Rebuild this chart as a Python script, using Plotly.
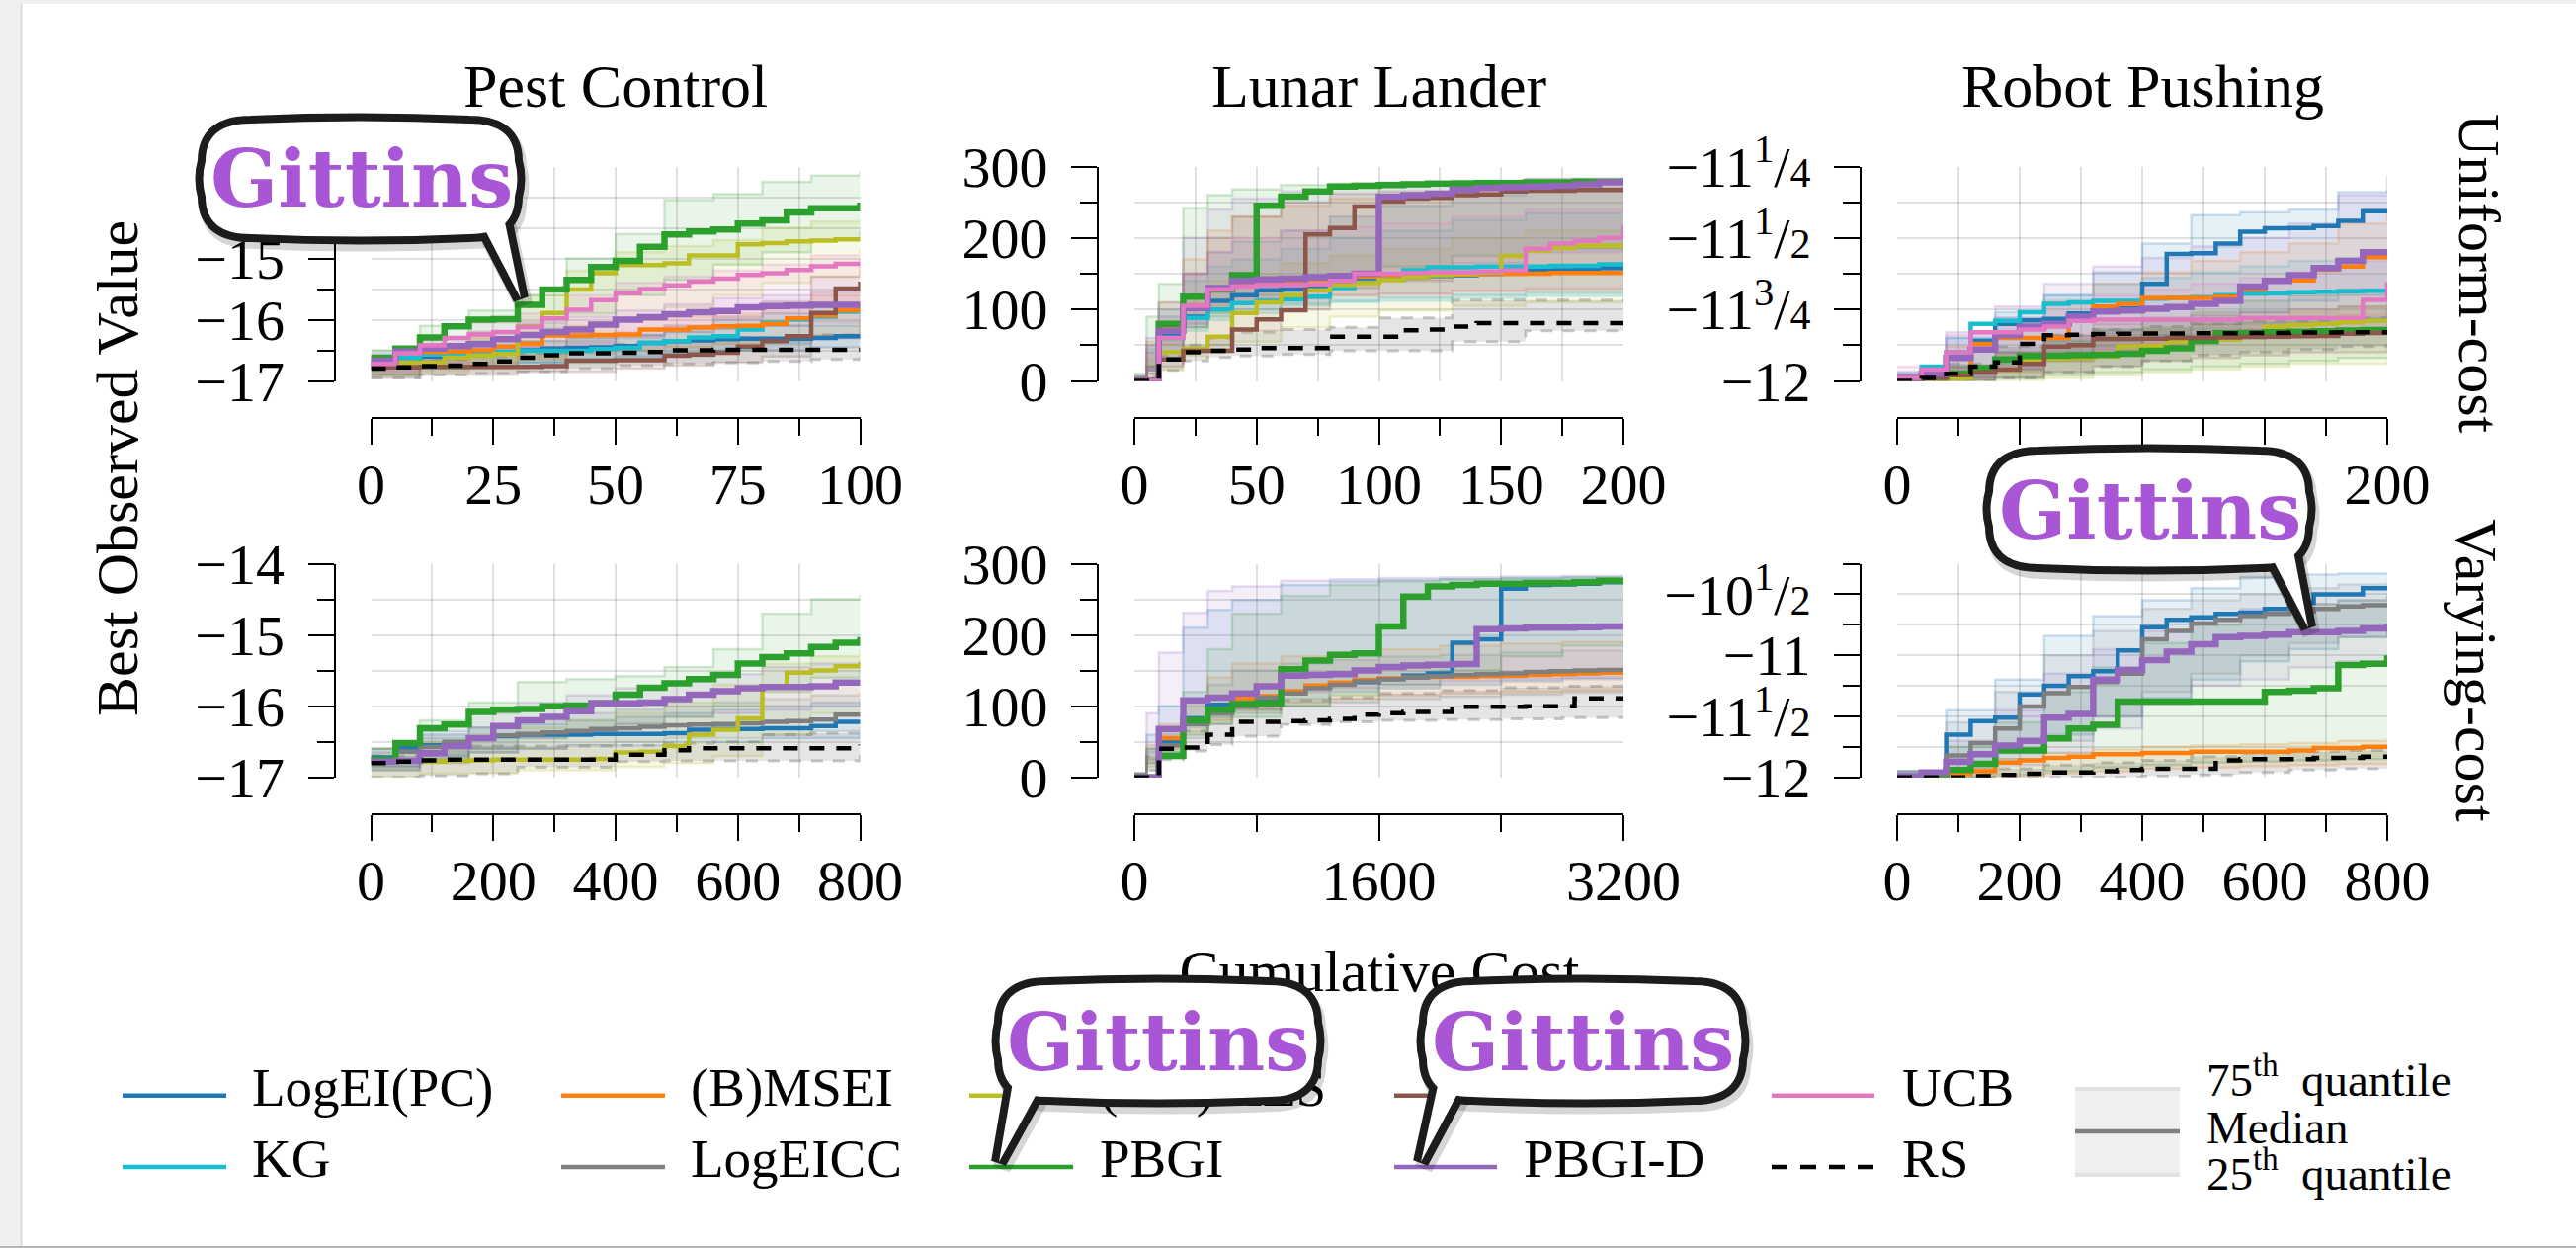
import plotly.graph_objects as go

W, H = 2607, 1263

# ---------------------------------------------------------------- data
# Medians are sampled on a regular cost grid per panel; quantile bands on a coarser grid.

# Pest Control, uniform cost
PEST_U_X = [0, 5, 10, 15, 20, 25, 30, 35, 40, 45, 50, 55, 60, 65, 70, 75, 80, 85, 90, 95, 100]
PEST_U_BX = [0, 10, 20, 30, 40, 50, 60, 70, 80, 90, 100]
pest_u_logei = [-16.72, -16.62, -16.60, -16.57, -16.55, -16.54, -16.50, -16.47, -16.46, -16.45, -16.43, -16.38, -16.35, -16.34, -16.32, -16.31, -16.31, -16.31, -16.30, -16.27, -16.25]
pest_u_kg = [-16.70, -16.62, -16.57, -16.56, -16.55, -16.52, -16.51, -16.51, -16.51, -16.48, -16.46, -16.38, -16.35, -16.29, -16.27, -16.16, -16.05, -16.00, -15.95, -15.87, -15.85]
pest_u_msei = [-16.78, -16.54, -16.53, -16.52, -16.50, -16.44, -16.39, -16.26, -16.26, -16.25, -16.24, -16.16, -16.16, -16.13, -16.11, -16.10, -16.07, -15.98, -15.93, -15.85, -15.73]
pest_u_mes = [-16.75, -16.70, -16.70, -16.62, -16.59, -16.56, -16.11, -15.89, -15.51, -15.24, -15.11, -15.11, -15.08, -14.95, -14.95, -14.77, -14.75, -14.72, -14.71, -14.69, -14.68]
pest_u_pbgi = [-16.62, -16.47, -16.29, -16.11, -16.00, -15.99, -15.76, -15.51, -15.35, -15.14, -15.04, -14.81, -14.61, -14.56, -14.53, -14.43, -14.38, -14.25, -14.18, -14.18, -14.09]
pest_u_ts = [-16.78, -16.78, -16.77, -16.77, -16.77, -16.77, -16.77, -16.76, -16.67, -16.67, -16.66, -16.66, -16.59, -16.57, -16.54, -16.44, -16.35, -16.27, -15.89, -15.49, -15.38]
pest_u_pbgid = [-16.67, -16.52, -16.47, -16.43, -16.40, -16.32, -16.25, -16.20, -16.16, -16.08, -16.00, -15.96, -15.91, -15.88, -15.86, -15.80, -15.78, -15.77, -15.76, -15.76, -15.76]
pest_u_ucb = [-16.72, -16.55, -16.42, -16.30, -16.24, -16.20, -16.12, -15.98, -15.84, -15.68, -15.57, -15.50, -15.44, -15.38, -15.33, -15.27, -15.24, -15.19, -15.13, -15.09, -15.07]
pest_u_rs = [-16.80, -16.78, -16.76, -16.75, -16.72, -16.68, -16.62, -16.58, -16.55, -16.55, -16.54, -16.53, -16.50, -16.50, -16.49, -16.49, -16.49, -16.49, -16.49, -16.49, -16.49]
pest_u_logei_lo = [-16.9, -16.8, -16.75, -16.7, -16.65, -16.6, -16.55, -16.5, -16.5, -16.45, -16.45]
pest_u_logei_hi = [-16.6, -16.5, -16.45, -16.35, -16.3, -16.25, -16.2, -16.15, -16.1, -16.1, -16.05]
pest_u_kg_lo = [-16.9, -16.8, -16.75, -16.7, -16.7, -16.65, -16.6, -16.5, -16.4, -16.3, -16.2]
pest_u_kg_hi = [-16.6, -16.45, -16.4, -16.35, -16.3, -16.25, -16.15, -16.0, -15.9, -15.8, -15.7]
pest_u_msei_lo = [-16.9, -16.75, -16.7, -16.65, -16.55, -16.5, -16.45, -16.4, -16.35, -16.25, -16.1]
pest_u_msei_hi = [-16.6, -16.4, -16.3, -16.2, -16.1, -16.0, -15.95, -15.9, -15.8, -15.6, -15.5]
pest_u_mes_lo = [-16.9, -16.85, -16.8, -16.6, -16.3, -16.0, -15.8, -15.6, -15.4, -15.3, -15.2]
pest_u_mes_hi = [-16.6, -16.4, -16.2, -15.6, -15.2, -14.9, -14.8, -14.7, -14.5, -14.4, -14.35]
pest_u_pbgi_lo = [-16.78, -16.55, -16.35, -16.15, -15.9, -15.6, -15.35, -15.1, -14.9, -14.7, -14.55]
pest_u_pbgi_hi = [-16.5, -16.1, -15.85, -15.6, -15.0, -14.6, -14.05, -13.95, -13.75, -13.65, -13.58]
pest_u_ts_lo = [-16.95, -16.9, -16.9, -16.85, -16.85, -16.8, -16.75, -16.7, -16.6, -16.3, -15.9]
pest_u_ts_hi = [-16.65, -16.6, -16.55, -16.45, -16.35, -16.25, -16.1, -15.95, -15.7, -15.3, -15.0]
pest_u_pbgid_lo = [-16.8, -16.65, -16.55, -16.45, -16.4, -16.3, -16.2, -16.15, -16.1, -16.05, -16.0]
pest_u_pbgid_hi = [-16.55, -16.3, -16.2, -16.05, -15.95, -15.85, -15.75, -15.65, -15.6, -15.55, -15.5]
pest_u_ucb_lo = [-16.85, -16.7, -16.55, -16.45, -16.3, -16.2, -16.1, -16.0, -15.9, -15.8, -15.7]
pest_u_ucb_hi = [-16.6, -16.3, -16.05, -15.9, -15.6, -15.4, -15.3, -15.2, -15.1, -14.95, -14.85]
pest_u_rs_lo = [-16.95, -16.9, -16.88, -16.85, -16.8, -16.75, -16.72, -16.7, -16.68, -16.65, -16.6]
pest_u_rs_hi = [-16.7, -16.65, -16.6, -16.55, -16.45, -16.4, -16.35, -16.3, -16.3, -16.25, -16.25]

# Lunar Lander, uniform cost
LUNAR_U_X = [0, 10, 20, 30, 40, 50, 60, 70, 80, 90, 100, 110, 120, 130, 140, 150, 160, 170, 180, 190, 200]
LUNAR_U_BX = [0, 5, 10, 20, 30, 40, 60, 80, 100, 130, 160, 200]
lunar_u_logei = [0, 65, 90, 112, 120, 127, 128, 129, 134, 140, 142, 145, 147, 148, 150, 151, 154, 155, 157, 158, 159]
lunar_u_kg = [0, 60, 88, 100, 109, 112, 114, 118, 130, 138, 142, 155, 159, 159, 160, 160, 160, 161, 161, 163, 167]
lunar_u_msei = [0, 74, 105, 130, 133, 136, 138, 142, 143, 146, 148, 148, 149, 149, 150, 150, 150, 151, 151, 151, 152]
lunar_u_mes = [0, 40, 45, 62, 95, 110, 120, 127, 134, 137, 141, 145, 148, 150, 152, 175, 182, 186, 189, 189, 189]
lunar_u_pbgi = [0, 80, 118, 128, 148, 245, 258, 265, 272, 273, 274, 275, 276, 276, 277, 277, 278, 278, 279, 279, 280]
lunar_u_ts = [0, 30, 42, 42, 72, 86, 99, 205, 214, 244, 251, 255, 256, 260, 261, 265, 266, 266, 267, 267, 267]
lunar_u_pbgid = [0, 70, 102, 130, 140, 142, 143, 145, 147, 150, 258, 260, 262, 268, 270, 271, 272, 273, 275, 278, 283]
lunar_u_ucb = [0, 60, 105, 128, 132, 134, 134, 135, 140, 150, 150, 151, 152, 152, 153, 155, 185, 192, 196, 200, 217]
lunar_u_rs = [0, 30, 40, 42, 44, 46, 46, 46, 62, 62, 62, 71, 72, 76, 81, 81, 81, 81, 81, 81, 81]
lunar_u_logei_lo = [0, 15, 40, 75, 90, 100, 108, 112, 116, 120, 123, 125]
lunar_u_logei_hi = [5, 50, 100, 150, 180, 195, 210, 230, 245, 260, 268, 272]
lunar_u_kg_lo = [0, 15, 35, 70, 85, 95, 105, 110, 112, 116, 119, 122]
lunar_u_kg_hi = [5, 45, 90, 140, 160, 170, 185, 200, 210, 225, 235, 245]
lunar_u_msei_lo = [0, 20, 50, 90, 105, 112, 116, 120, 122, 126, 128, 130]
lunar_u_msei_hi = [5, 55, 110, 170, 210, 230, 245, 255, 260, 266, 269, 272]
lunar_u_mes_lo = [0, 5, 15, 35, 45, 55, 75, 90, 98, 105, 110, 115]
lunar_u_mes_hi = [5, 30, 60, 110, 140, 150, 165, 175, 185, 200, 210, 220]
lunar_u_pbgi_lo = [0, 20, 40, 75, 95, 120, 140, 150, 160, 175, 185, 195]
lunar_u_pbgi_hi = [10, 90, 136, 242, 260, 268, 274, 276, 278, 280, 282, 284]
lunar_u_ts_lo = [0, 10, 20, 40, 50, 70, 100, 130, 140, 148, 155, 165]
lunar_u_ts_hi = [5, 40, 80, 150, 200, 230, 250, 262, 265, 268, 272, 275]
lunar_u_pbgid_lo = [0, 15, 40, 80, 100, 115, 130, 140, 150, 165, 180, 200]
lunar_u_pbgid_hi = [8, 60, 110, 200, 240, 255, 265, 272, 276, 280, 283, 286]
lunar_u_ucb_lo = [0, 15, 35, 80, 100, 110, 115, 120, 122, 126, 130, 135]
lunar_u_ucb_hi = [5, 50, 90, 150, 180, 200, 210, 215, 220, 230, 240, 250]
lunar_u_rs_lo = [0, 5, 15, 28, 33, 35, 37, 42, 42, 55, 70, 72]
lunar_u_rs_hi = [5, 20, 35, 50, 60, 68, 72, 75, 88, 113, 113, 113]

# Robot Pushing, uniform cost
ROBOT_U_X = [0, 10, 20, 30, 40, 50, 60, 70, 80, 90, 100, 110, 120, 130, 140, 150, 160, 170, 180, 190, 200]
ROBOT_U_BX = [0, 20, 40, 60, 80, 100, 120, 140, 160, 180, 200]
robot_u_logei = [-12.0, -11.965, -11.92, -11.86, -11.80, -11.788, -11.783, -11.764, -11.757, -11.747, -11.66, -11.556, -11.553, -11.52, -11.478, -11.466, -11.465, -11.458, -11.44, -11.406, -11.406]
robot_u_kg = [-11.99, -11.95, -11.90, -11.80, -11.79, -11.76, -11.73, -11.725, -11.72, -11.72, -11.712, -11.71, -11.707, -11.70, -11.695, -11.694, -11.69, -11.688, -11.686, -11.685, -11.683]
robot_u_msei = [-11.995, -11.99, -11.985, -11.87, -11.85, -11.85, -11.85, -11.79, -11.74, -11.73, -11.71, -11.71, -11.71, -11.705, -11.68, -11.648, -11.648, -11.61, -11.60, -11.567, -11.567]
robot_u_mes = [-12.0, -11.995, -11.99, -11.97, -11.96, -11.925, -11.922, -11.92, -11.915, -11.88, -11.878, -11.862, -11.86, -11.855, -11.845, -11.81, -11.805, -11.80, -11.795, -11.79, -11.79]
robot_u_pbgi = [-12.0, -11.985, -11.975, -11.955, -11.925, -11.913, -11.912, -11.91, -11.908, -11.905, -11.895, -11.886, -11.86, -11.833, -11.832, -11.83, -11.828, -11.826, -11.824, -11.822, -11.82]
robot_u_ts = [-12.0, -11.99, -11.98, -11.97, -11.96, -11.94, -11.88, -11.875, -11.853, -11.853, -11.852, -11.85, -11.85, -11.848, -11.846, -11.845, -11.844, -11.843, -11.835, -11.832, -11.832]
robot_u_pbgid = [-11.99, -11.975, -11.92, -11.89, -11.84, -11.81, -11.80, -11.775, -11.757, -11.754, -11.748, -11.742, -11.73, -11.72, -11.67, -11.65, -11.63, -11.605, -11.58, -11.55, -11.545]
robot_u_ucb = [-11.99, -11.96, -11.90, -11.83, -11.83, -11.82, -11.81, -11.79, -11.786, -11.786, -11.786, -11.786, -11.786, -11.786, -11.78, -11.78, -11.78, -11.78, -11.78, -11.717, -11.654]
robot_u_rs = [-12.0, -11.99, -11.975, -11.95, -11.935, -11.87, -11.84, -11.838, -11.836, -11.835, -11.834, -11.834, -11.833, -11.833, -11.832, -11.832, -11.831, -11.831, -11.83, -11.83, -11.83]
robot_u_logei_lo = [-12.0, -11.99, -11.96, -11.92, -11.88, -11.84, -11.80, -11.76, -11.72, -11.70, -11.68]
robot_u_logei_hi = [-11.98, -11.85, -11.78, -11.70, -11.62, -11.52, -11.42, -11.41, -11.40, -11.34, -11.33]
robot_u_kg_lo = [-12.0, -11.98, -11.94, -11.90, -11.86, -11.84, -11.82, -11.80, -11.79, -11.78, -11.77]
robot_u_kg_hi = [-11.97, -11.85, -11.76, -11.70, -11.66, -11.64, -11.62, -11.60, -11.58, -11.57, -11.55]
robot_u_msei_lo = [-12.0, -11.99, -11.97, -11.93, -11.90, -11.87, -11.85, -11.83, -11.80, -11.77, -11.74]
robot_u_msei_hi = [-11.98, -11.88, -11.79, -11.72, -11.66, -11.62, -11.58, -11.55, -11.52, -11.45, -11.40]
robot_u_mes_lo = [-12.0, -12.0, -12.0, -11.99, -11.98, -11.97, -11.96, -11.95, -11.94, -11.94, -11.93]
robot_u_mes_hi = [-11.99, -11.96, -11.92, -11.88, -11.84, -11.82, -11.80, -11.78, -11.76, -11.74, -11.72]
robot_u_pbgi_lo = [-12.0, -12.0, -11.99, -11.98, -11.97, -11.96, -11.95, -11.94, -11.93, -11.92, -11.92]
robot_u_pbgi_hi = [-11.99, -11.95, -11.90, -11.86, -11.82, -11.79, -11.76, -11.72, -11.70, -11.68, -11.66]
robot_u_ts_lo = [-12.0, -12.0, -11.99, -11.97, -11.95, -11.93, -11.92, -11.91, -11.90, -11.90, -11.89]
robot_u_ts_hi = [-11.99, -11.95, -11.90, -11.84, -11.80, -11.78, -11.77, -11.76, -11.75, -11.74, -11.73]
robot_u_pbgid_lo = [-12.0, -11.99, -11.96, -11.93, -11.89, -11.86, -11.84, -11.82, -11.80, -11.78, -11.75]
robot_u_pbgid_hi = [-11.97, -11.83, -11.74, -11.66, -11.60, -11.57, -11.53, -11.50, -11.45, -11.35, -11.28]
robot_u_ucb_lo = [-12.0, -11.98, -11.95, -11.92, -11.89, -11.87, -11.86, -11.85, -11.84, -11.82, -11.80]
robot_u_ucb_hi = [-11.95, -11.84, -11.78, -11.73, -11.70, -11.68, -11.66, -11.64, -11.62, -11.58, -11.55]
robot_u_rs_lo = [-12.0, -12.0, -11.99, -11.97, -11.95, -11.93, -11.91, -11.90, -11.89, -11.88, -11.87]
robot_u_rs_hi = [-11.99, -11.94, -11.88, -11.84, -11.82, -11.81, -11.80, -11.79, -11.79, -11.78, -11.78]

# Pest Control, varying cost
PEST_V_X = [0, 40, 80, 120, 160, 200, 240, 280, 320, 360, 400, 440, 480, 520, 560, 600, 640, 680, 720, 760, 800]
PEST_V_BX = [0, 80, 160, 240, 320, 400, 480, 560, 640, 720, 800]
pest_v_logei = [-16.72, -16.58, -16.55, -16.52, -16.45, -16.42, -16.40, -16.40, -16.40, -16.39, -16.39, -16.39, -16.38, -16.33, -16.32, -16.32, -16.31, -16.31, -16.28, -16.22, -16.20]
pest_v_logeicc = [-16.75, -16.64, -16.57, -16.50, -16.45, -16.41, -16.39, -16.37, -16.35, -16.32, -16.31, -16.29, -16.27, -16.26, -16.25, -16.24, -16.22, -16.21, -16.19, -16.12, -16.10]
pest_v_mes = [-16.78, -16.78, -16.78, -16.77, -16.76, -16.75, -16.75, -16.75, -16.75, -16.74, -16.65, -16.64, -16.56, -16.40, -16.33, -16.17, -15.72, -15.53, -15.50, -15.44, -15.38]
pest_v_pbgi = [-16.75, -16.52, -16.31, -16.26, -16.08, -16.05, -16.04, -16.00, -15.99, -15.96, -15.84, -15.74, -15.68, -15.62, -15.56, -15.40, -15.31, -15.26, -15.17, -15.11, -15.03]
pest_v_pbgid = [-16.78, -16.77, -16.66, -16.56, -16.45, -16.28, -16.20, -16.15, -16.07, -15.96, -15.96, -15.95, -15.90, -15.84, -15.79, -15.75, -15.73, -15.73, -15.72, -15.67, -15.63]
pest_v_rs = [-16.80, -16.78, -16.76, -16.75, -16.75, -16.75, -16.75, -16.75, -16.75, -16.75, -16.68, -16.68, -16.62, -16.59, -16.59, -16.59, -16.59, -16.59, -16.59, -16.59, -16.54]
pest_v_logei_lo = [-16.85, -16.7, -16.65, -16.6, -16.55, -16.55, -16.5, -16.5, -16.45, -16.45, -16.4]
pest_v_logei_hi = [-16.6, -16.4, -16.3, -16.25, -16.2, -16.15, -16.1, -16.05, -16.0, -15.95, -15.9]
pest_v_logeicc_lo = [-16.85, -16.75, -16.65, -16.6, -16.55, -16.5, -16.45, -16.45, -16.4, -16.35, -16.3]
pest_v_logeicc_hi = [-16.65, -16.45, -16.3, -16.2, -16.1, -16.05, -16.0, -15.95, -15.9, -15.85, -15.8]
pest_v_mes_lo = [-17.0, -16.95, -16.95, -16.9, -16.9, -16.85, -16.8, -16.7, -16.4, -16.1, -15.95]
pest_v_mes_hi = [-16.6, -16.5, -16.4, -16.3, -16.2, -16.1, -15.95, -15.7, -15.4, -15.3, -15.2]
pest_v_pbgi_lo = [-16.9, -16.75, -16.6, -16.45, -16.35, -16.25, -16.15, -16.0, -15.8, -15.6, -15.5]
pest_v_pbgi_hi = [-16.6, -16.2, -15.95, -15.66, -15.62, -15.58, -15.45, -15.2, -14.7, -14.5, -14.43]
pest_v_pbgid_lo = [-16.9, -16.8, -16.6, -16.45, -16.35, -16.25, -16.15, -16.1, -16.05, -16.0, -15.95]
pest_v_pbgid_hi = [-16.6, -16.35, -16.1, -15.95, -15.85, -15.75, -15.65, -15.55, -15.45, -15.4, -15.35]
pest_v_rs_lo = [-17.0, -16.98, -16.95, -16.86, -16.86, -16.78, -16.77, -16.77, -16.77, -16.77, -16.65]
pest_v_rs_hi = [-16.7, -16.56, -16.56, -16.56, -16.56, -16.55, -16.52, -16.5, -16.4, -16.38, -16.38]

# Lunar Lander, varying cost
LUNAR_V_X = [0, 160, 320, 480, 640, 800, 960, 1120, 1280, 1440, 1600, 1760, 1920, 2080, 2240, 2400, 2560, 2720, 2880, 3040, 3200]
LUNAR_V_BX = [0, 80, 160, 320, 480, 640, 960, 1280, 1600, 2000, 2400, 2800, 3200]
lunar_v_logei = [0, 50, 83, 102, 104, 110, 120, 128, 131, 134, 138, 143, 146, 189, 194, 265, 270, 271, 272, 274, 275]
lunar_v_msei = [0, 55, 80, 96, 111, 114, 121, 129, 133, 137, 139, 140, 141, 141, 142, 143, 144, 145, 146, 147, 148]
lunar_v_logeicc = [0, 45, 75, 90, 100, 112, 118, 125, 130, 135, 138, 140, 142, 144, 145, 146, 148, 149, 150, 151, 152]
lunar_v_pbgi = [0, 30, 80, 95, 103, 104, 152, 164, 172, 174, 212, 254, 268, 270, 272, 272, 273, 273, 274, 276, 277]
lunar_v_pbgid = [0, 68, 108, 112, 118, 128, 143, 144, 145, 150, 155, 157, 158, 159, 208, 209, 210, 210, 211, 212, 213]
lunar_v_rs = [0, 40, 42, 60, 78, 78, 79, 80, 82, 88, 90, 92, 92, 99, 99, 99, 100, 100, 111, 111, 111]
lunar_v_logei_lo = [0, 25, 45, 70, 85, 95, 110, 120, 125, 130, 135, 138, 140]
lunar_v_logei_hi = [5, 60, 100, 210, 235, 249, 270, 275, 277, 278, 279, 280, 280]
lunar_v_msei_lo = [0, 20, 40, 65, 80, 95, 105, 110, 115, 118, 120, 122, 125]
lunar_v_msei_hi = [5, 45, 75, 110, 140, 160, 170, 175, 180, 185, 188, 190, 192]
lunar_v_logeicc_lo = [0, 15, 35, 55, 75, 90, 100, 105, 110, 113, 116, 119, 122]
lunar_v_logeicc_hi = [5, 40, 70, 105, 130, 150, 160, 165, 170, 172, 175, 178, 180]
lunar_v_pbgi_lo = [0, 20, 35, 60, 75, 85, 100, 115, 130, 150, 170, 185, 190]
lunar_v_pbgi_hi = [5, 40, 70, 120, 180, 230, 255, 270, 275, 278, 280, 281, 282]
lunar_v_pbgid_lo = [0, 35, 60, 85, 100, 110, 120, 125, 130, 135, 138, 140, 140]
lunar_v_pbgid_hi = [5, 90, 175, 231, 262, 268, 276, 278, 280, 281, 282, 283, 283]
lunar_v_rs_lo = [0, 10, 25, 37, 46, 58, 74, 78, 80, 81, 82, 84, 85]
lunar_v_rs_hi = [5, 30, 45, 65, 92, 100, 108, 112, 118, 122, 126, 128, 130]

# Robot Pushing, varying cost
ROBOT_V_X = [0, 40, 80, 120, 160, 200, 240, 280, 320, 360, 400, 440, 480, 520, 560, 600, 640, 680, 720, 760, 800]
ROBOT_V_BX = [0, 80, 160, 240, 320, 400, 480, 560, 640, 720, 800]
robot_v_logei = [-12.0, -11.96, -11.65, -11.54, -11.51, -11.32, -11.25, -11.17, -11.13, -10.96, -10.77, -10.71, -10.69, -10.66, -10.65, -10.62, -10.57, -10.50, -10.50, -10.45, -10.45]
robot_v_msei = [-12.0, -12.0, -11.97, -11.95, -11.88, -11.86, -11.84, -11.83, -11.81, -11.81, -11.80, -11.80, -11.79, -11.79, -11.79, -11.79, -11.78, -11.76, -11.76, -11.75, -11.74]
robot_v_logeicc = [-12.0, -11.97, -11.82, -11.72, -11.60, -11.42, -11.31, -11.26, -11.22, -11.15, -10.87, -10.80, -10.74, -10.71, -10.68, -10.66, -10.64, -10.62, -10.60, -10.59, -10.58]
robot_v_pbgi = [-12.0, -11.99, -11.94, -11.89, -11.78, -11.78, -11.68, -11.60, -11.57, -11.38, -11.38, -11.38, -11.38, -11.38, -11.38, -11.30, -11.29, -11.27, -11.08, -11.07, -11.0]
robot_v_pbgid = [-11.99, -11.96, -11.87, -11.81, -11.74, -11.70, -11.51, -11.48, -11.20, -11.12, -11.04, -10.97, -10.91, -10.85, -10.84, -10.83, -10.81, -10.81, -10.80, -10.78, -10.74]
robot_v_rs = [-12.0, -12.0, -12.0, -11.99, -11.98, -11.97, -11.96, -11.96, -11.95, -11.94, -11.93, -11.93, -11.93, -11.86, -11.85, -11.85, -11.85, -11.84, -11.84, -11.83, -11.83]
robot_v_logei_lo = [-12.0, -11.9, -11.8, -11.65, -11.5, -11.35, -11.2, -11.05, -10.95, -10.85, -10.8]
robot_v_logei_hi = [-11.95, -11.45, -11.2, -10.84, -10.68, -10.55, -10.45, -10.36, -10.34, -10.33, -10.32]
robot_v_msei_lo = [-12.0, -12.0, -12.0, -11.97, -11.95, -11.93, -11.92, -11.91, -11.9, -11.89, -11.88]
robot_v_msei_hi = [-11.98, -11.92, -11.85, -11.8, -11.77, -11.75, -11.74, -11.73, -11.72, -11.7, -11.68]
robot_v_logeicc_lo = [-12.0, -11.93, -11.85, -11.7, -11.5, -11.3, -11.15, -11.0, -10.9, -10.85, -10.8]
robot_v_logeicc_hi = [-11.95, -11.55, -11.3, -11.0, -10.8, -10.62, -10.55, -10.5, -10.45, -10.42, -10.4]
robot_v_pbgi_lo = [-12.0, -12.0, -11.98, -11.95, -11.92, -11.9, -11.88, -11.87, -11.86, -11.85, -11.84]
robot_v_pbgi_hi = [-11.95, -11.75, -11.55, -11.3, -11.1, -10.9, -10.75, -10.65, -10.58, -10.55, -10.52]
robot_v_pbgid_lo = [-12.0, -11.95, -11.9, -11.8, -11.6, -11.4, -11.25, -11.2, -11.1, -11.05, -11.0]
robot_v_pbgid_hi = [-11.95, -11.7, -11.45, -11.15, -10.95, -10.8, -10.7, -10.62, -10.58, -10.55, -10.5]
robot_v_rs_lo = [-12.0, -12.0, -12.0, -12.0, -12.0, -11.99, -11.98, -11.96, -11.94, -11.93, -11.93]
robot_v_rs_hi = [-11.99, -11.97, -11.93, -11.9, -11.88, -11.86, -11.83, -11.8, -11.79, -11.78, -11.77]

# ---------------------------------------------------------------- styling
SERIF = "Liberation Serif"
BUBBLE_FONT = "DejaVu Serif"
GITTINS_PURPLE = "#a855d6"
GRID = "rgba(0,0,0,0.12)"

COLORS = {
    "LogEI(PC)": "#1f77b4", "KG": "#17becf", "(B)MSEI": "#ff7f0e", "LogEICC": "#7f7f7f",
    "(MF)MES": "#bcbd22", "PBGI": "#2ca02c", "TS": "#8c564b", "PBGI-D": "#9467bd",
    "UCB": "#e377c2", "RS": "#000000",
}
THICK = {"PBGI": 6.5, "PBGI-D": 6.5}

COL_X = [(375.5, 870.5), (1148, 1643), (1920, 2416)]
ROW_Y = [(168.5, 385.5), (570.5, 786.7)]
SPINE_GAP = 37


def rgba(hex_color, a):
    h = hex_color.lstrip("#")
    return "rgba(%d,%d,%d,%s)" % (int(h[0:2], 16), int(h[2:4], 16), int(h[4:6], 16), a)


def frac(label):
    whole, num, den = label
    return "−%s<sup>%s</sup>/<span style='font-size:42px'>%s</span>" % (whole, num, den)


PANELS = [
    dict(n=1, col=0, row=0, x=PEST_U_X, bx=PEST_U_BX, xr=[0, 100],
         xt=[0, 25, 50, 75, 100], xm=[12.5, 37.5, 62.5, 87.5],
         yr=[-17, -13.5], yt=[-17, -16, -15, -14], ytt=["−17", "−16", "−15", "−14"],
         ym=[-16.5, -15.5, -14.5, -13.5],
         series=[("LogEI(PC)", pest_u_logei, pest_u_logei_lo, pest_u_logei_hi),
                 ("KG", pest_u_kg, pest_u_kg_lo, pest_u_kg_hi),
                 ("(B)MSEI", pest_u_msei, pest_u_msei_lo, pest_u_msei_hi),
                 ("(MF)MES", pest_u_mes, pest_u_mes_lo, pest_u_mes_hi),
                 ("PBGI", pest_u_pbgi, pest_u_pbgi_lo, pest_u_pbgi_hi),
                 ("TS", pest_u_ts, pest_u_ts_lo, pest_u_ts_hi),
                 ("PBGI-D", pest_u_pbgid, pest_u_pbgid_lo, pest_u_pbgid_hi),
                 ("UCB", pest_u_ucb, pest_u_ucb_lo, pest_u_ucb_hi),
                 ("RS", pest_u_rs, pest_u_rs_lo, pest_u_rs_hi)]),
    dict(n=2, col=1, row=0, x=LUNAR_U_X, bx=LUNAR_U_BX, xr=[0, 200],
         xt=[0, 50, 100, 150, 200], xm=[25, 75, 125, 175],
         yr=[0, 300], yt=[0, 100, 200, 300], ytt=["0", "100", "200", "300"], ym=[50, 150, 250],
         series=[("LogEI(PC)", lunar_u_logei, lunar_u_logei_lo, lunar_u_logei_hi),
                 ("KG", lunar_u_kg, lunar_u_kg_lo, lunar_u_kg_hi),
                 ("(B)MSEI", lunar_u_msei, lunar_u_msei_lo, lunar_u_msei_hi),
                 ("(MF)MES", lunar_u_mes, lunar_u_mes_lo, lunar_u_mes_hi),
                 ("PBGI", lunar_u_pbgi, lunar_u_pbgi_lo, lunar_u_pbgi_hi),
                 ("TS", lunar_u_ts, lunar_u_ts_lo, lunar_u_ts_hi),
                 ("PBGI-D", lunar_u_pbgid, lunar_u_pbgid_lo, lunar_u_pbgid_hi),
                 ("UCB", lunar_u_ucb, lunar_u_ucb_lo, lunar_u_ucb_hi),
                 ("RS", lunar_u_rs, lunar_u_rs_lo, lunar_u_rs_hi)]),
    dict(n=3, col=2, row=0, x=ROBOT_U_X, bx=ROBOT_U_BX, xr=[0, 200],
         xt=[0, 50, 100, 150, 200], xm=[25, 75, 125, 175],
         yr=[-12, -11.25], yt=[-12, -11.75, -11.5, -11.25],
         ytt=["−12", frac(("11", "3", "4")), frac(("11", "1", "2")), frac(("11", "1", "4"))],
         ym=[-11.875, -11.625, -11.375],
         series=[("LogEI(PC)", robot_u_logei, robot_u_logei_lo, robot_u_logei_hi),
                 ("KG", robot_u_kg, robot_u_kg_lo, robot_u_kg_hi),
                 ("(B)MSEI", robot_u_msei, robot_u_msei_lo, robot_u_msei_hi),
                 ("(MF)MES", robot_u_mes, robot_u_mes_lo, robot_u_mes_hi),
                 ("PBGI", robot_u_pbgi, robot_u_pbgi_lo, robot_u_pbgi_hi),
                 ("TS", robot_u_ts, robot_u_ts_lo, robot_u_ts_hi),
                 ("PBGI-D", robot_u_pbgid, robot_u_pbgid_lo, robot_u_pbgid_hi),
                 ("UCB", robot_u_ucb, robot_u_ucb_lo, robot_u_ucb_hi),
                 ("RS", robot_u_rs, robot_u_rs_lo, robot_u_rs_hi)]),
    dict(n=4, col=0, row=1, x=PEST_V_X, bx=PEST_V_BX, xr=[0, 800],
         xt=[0, 200, 400, 600, 800], xm=[100, 300, 500, 700],
         yr=[-17, -14], yt=[-17, -16, -15, -14], ytt=["−17", "−16", "−15", "−14"],
         ym=[-16.5, -15.5, -14.5],
         series=[("LogEI(PC)", pest_v_logei, pest_v_logei_lo, pest_v_logei_hi),
                 ("LogEICC", pest_v_logeicc, pest_v_logeicc_lo, pest_v_logeicc_hi),
                 ("(MF)MES", pest_v_mes, pest_v_mes_lo, pest_v_mes_hi),
                 ("PBGI", pest_v_pbgi, pest_v_pbgi_lo, pest_v_pbgi_hi),
                 ("PBGI-D", pest_v_pbgid, pest_v_pbgid_lo, pest_v_pbgid_hi),
                 ("RS", pest_v_rs, pest_v_rs_lo, pest_v_rs_hi)]),
    dict(n=5, col=1, row=1, x=LUNAR_V_X, bx=LUNAR_V_BX, xr=[0, 3200],
         xt=[0, 1600, 3200], xm=[800, 2400],
         yr=[0, 300], yt=[0, 100, 200, 300], ytt=["0", "100", "200", "300"], ym=[50, 150, 250],
         series=[("LogEI(PC)", lunar_v_logei, lunar_v_logei_lo, lunar_v_logei_hi),
                 ("(B)MSEI", lunar_v_msei, lunar_v_msei_lo, lunar_v_msei_hi),
                 ("LogEICC", lunar_v_logeicc, lunar_v_logeicc_lo, lunar_v_logeicc_hi),
                 ("PBGI", lunar_v_pbgi, lunar_v_pbgi_lo, lunar_v_pbgi_hi),
                 ("PBGI-D", lunar_v_pbgid, lunar_v_pbgid_lo, lunar_v_pbgid_hi),
                 ("RS", lunar_v_rs, lunar_v_rs_lo, lunar_v_rs_hi)]),
    dict(n=6, col=2, row=1, x=ROBOT_V_X, bx=ROBOT_V_BX, xr=[0, 800],
         xt=[0, 200, 400, 600, 800], xm=[100, 300, 500, 700],
         yr=[-12, -10.25], yt=[-12, -11.5, -11, -10.5],
         ytt=["−12", frac(("11", "1", "2")), "−11", frac(("10", "1", "2"))],
         ym=[-11.75, -11.25, -10.75, -10.25],
         series=[("LogEI(PC)", robot_v_logei, robot_v_logei_lo, robot_v_logei_hi),
                 ("(B)MSEI", robot_v_msei, robot_v_msei_lo, robot_v_msei_hi),
                 ("LogEICC", robot_v_logeicc, robot_v_logeicc_lo, robot_v_logeicc_hi),
                 ("PBGI", robot_v_pbgi, robot_v_pbgi_lo, robot_v_pbgi_hi),
                 ("PBGI-D", robot_v_pbgid, robot_v_pbgid_lo, robot_v_pbgid_hi),
                 ("RS", robot_v_rs, robot_v_rs_lo, robot_v_rs_hi)]),
]

fig = go.Figure()
axes_layout = {}

for p in PANELS:
    n = p["n"]
    xid = "x" if n == 1 else "x%d" % n
    yid = "y" if n == 1 else "y%d" % n
    xl, xrt = COL_X[p["col"]]
    yt, yb = ROW_Y[p["row"]]

    tick_common = dict(ticks="outside", ticklen=26, tickwidth=2, tickcolor="black",
                       showline=True, linecolor="black", linewidth=2, zeroline=False,
                       showgrid=True, gridcolor=GRID, gridwidth=2,
                       tickfont=dict(family=SERIF, size=58, color="black"),
                       anchor="free", fixedrange=True, automargin=False)
    minor_common = dict(ticks="outside", ticklen=17, tickwidth=2, tickcolor="black",
                        showgrid=True, gridcolor=GRID, gridwidth=2, tickmode="array")

    axes_layout["xaxis" if n == 1 else "xaxis%d" % n] = dict(
        domain=[xl / W, xrt / W], range=p["xr"], position=1 - (yb + SPINE_GAP) / H,
        tickmode="array", tickvals=p["xt"], ticktext=[str(v) for v in p["xt"]],
        minor=dict(tickvals=p["xm"], **minor_common), ticklabelstandoff=-9, **tick_common)
    axes_layout["yaxis" if n == 1 else "yaxis%d" % n] = dict(
        domain=[1 - yb / H, 1 - yt / H], range=p["yr"], position=(xl - SPINE_GAP) / W,
        tickmode="array", tickvals=p["yt"], ticktext=p["ytt"],
        minor=dict(tickvals=p["ym"], **minor_common), ticklabelstandoff=12, **tick_common)

    # quantile bands (25th-75th) first, so every median sits on top
    for name, med, lo, hi in p["series"]:
        c = COLORS[name]
        if name == "RS":
            edge = dict(color="rgba(120,120,120,0.40)", width=3, shape="hv", dash="12px,10px")
            fillc = "rgba(0,0,0,0.10)"
        else:
            edge = dict(color=rgba(c, 0.22), width=2.5, shape="hv")
            fillc = rgba(c, 0.11)
        fig.add_trace(go.Scatter(x=p["bx"], y=lo, mode="lines", line=edge, xaxis=xid, yaxis=yid,
                                 showlegend=False, hoverinfo="skip"))
        fig.add_trace(go.Scatter(x=p["bx"], y=hi, mode="lines", line=edge, fill="tonexty",
                                 fillcolor=fillc, xaxis=xid, yaxis=yid,
                                 showlegend=False, hoverinfo="skip"))
    # medians
    for name, med, lo, hi in p["series"]:
        c = COLORS[name]
        line = dict(color=c, width=THICK.get(name, 4.5), shape="hv")
        if name == "RS":
            line["dash"] = "15px,12px"
        fig.add_trace(go.Scatter(x=p["x"], y=med, mode="lines", line=line, name=name,
                                 xaxis=xid, yaxis=yid, showlegend=False, hoverinfo="skip"))

# full-page overlay axes in pixel units (legend, labels and callouts)
axes_layout["xaxis7"] = dict(domain=[0, 1], range=[0, W], visible=False, anchor="y7",
                             fixedrange=True, automargin=False)
axes_layout["yaxis7"] = dict(domain=[0, 1], range=[H, 0], visible=False, anchor="x7",
                             fixedrange=True, automargin=False)

# ---------------------------------------------------------------- legend
LEG_ROWS = [1108.7, 1181.0]
LEG_COLS = [(124, 229, 257), (568, 673, 701), (981, 1086, 1115), (1411, 1515, 1544), (1793, 1897, 1927)]
LEG_ENTRIES = [["LogEI(PC)", "(B)MSEI", "(MF)MES", "TS", "UCB"],
               ["KG", "LogEICC", "PBGI", "PBGI-D", "RS"]]
for r, row in enumerate(LEG_ENTRIES):
    for c, name in enumerate(row):
        x0, x1, tx = LEG_COLS[c]
        ly = LEG_ROWS[r]
        line = dict(color=COLORS[name], width=4.5)
        if name == "RS":
            line["dash"] = "16px,13px"
        fig.add_trace(go.Scatter(x=[x0, x1], y=[ly, ly], mode="lines", line=line,
                                 xaxis="x7", yaxis="y7", showlegend=False, hoverinfo="skip"))
        fig.add_trace(go.Scatter(x=[tx - 2], y=[ly - 3.5], mode="text", text=[name],
                                 textposition="middle right",
                                 textfont=dict(family=SERIF, size=55, color="black"),
                                 xaxis="x7", yaxis="y7", showlegend=False, hoverinfo="skip"))

# quantile key
fig.add_trace(go.Scatter(x=[2100, 2206, 2206, 2100, 2100], y=[1100, 1100, 1191, 1191, 1100],
                         mode="lines", fill="toself", fillcolor="#efefef",
                         line=dict(color="rgba(0,0,0,0)", width=0),
                         xaxis="x7", yaxis="y7", showlegend=False, hoverinfo="skip"))
for qy in (1102, 1189):
    fig.add_trace(go.Scatter(x=[2100, 2206], y=[qy, qy], mode="lines",
                             line=dict(color="#e2e2e2", width=4),
                             xaxis="x7", yaxis="y7", showlegend=False, hoverinfo="skip"))
fig.add_trace(go.Scatter(x=[2100, 2206], y=[1145, 1145], mode="lines",
                         line=dict(color="#808080", width=4.5),
                         xaxis="x7", yaxis="y7", showlegend=False, hoverinfo="skip"))
fig.add_trace(go.Scatter(x=[2233, 2233, 2233], y=[1097, 1145, 1192], mode="text",
                         text=["75<sup>th</sup>  quantile", "Median", "25<sup>th</sup>  quantile"],
                         textposition="middle right",
                         textfont=dict(family=SERIF, size=47, color="black"),
                         xaxis="x7", yaxis="y7", showlegend=False, hoverinfo="skip"))

# shared x label (drawn under the callouts)
fig.add_trace(go.Scatter(x=[1396], y=[988], mode="text", text=["Cumulative Cost"],
                         textposition="middle center",
                         textfont=dict(family=SERIF, size=60, color="black"),
                         xaxis="x7", yaxis="y7", showlegend=False, hoverinfo="skip"))

# ---------------------------------------------------------------- callouts
def bubble_path(x0, y0, x1, y1, rx=46, ry=38, b=5):
    mx, my = (x0 + x1) / 2, (y0 + y1) / 2
    return ("M%.1f,%.1f Q%.1f,%.1f %.1f,%.1f Q%.1f,%.1f %.1f,%.1f Q%.1f,%.1f %.1f,%.1f "
            "Q%.1f,%.1f %.1f,%.1f Q%.1f,%.1f %.1f,%.1f Q%.1f,%.1f %.1f,%.1f "
            "Q%.1f,%.1f %.1f,%.1f Q%.1f,%.1f %.1f,%.1f Z") % (
        x0 + rx, y0, mx, y0 - b, x1 - rx, y0,
        x1, y0, x1, y0 + ry,
        x1 + b, my, x1, y1 - ry,
        x1, y1, x1 - rx, y1,
        mx, y1 + b, x0 + rx, y1,
        x0, y1, x0, y1 - ry,
        x0 - b, my, x0, y0 + ry,
        x0, y0, x0 + rx, y0)


def tail_path(pts):
    (ax_, ay_), (tx, ty), (bx_, by_) = pts
    return "M%.1f,%.1f L%.1f,%.1f L%.1f,%.1f Z" % (ax_, ay_, tx, ty, bx_, by_)


CALLOUTS = [
    dict(box=(201, 118, 528, 244), tail=[(483.6, 218.8), (527, 302), (508.5, 213.0)], text=(366, 181)),
    dict(box=(2010, 453, 2340, 578), tail=[(2292.6, 551.8), (2336, 635), (2319.2, 547.9)], text=(2176, 517)),
    dict(box=(1007, 990, 1337, 1117), tail=[(1026.8, 1084.4), (1011, 1176), (1056.8, 1092.8)], text=(1172, 1055)),
    dict(box=(1437, 990, 1767, 1117), tail=[(1457.4, 1088.0), (1438, 1176), (1482.6, 1092.8)], text=(1602, 1055)),
]
INSET = 7
shapes = []
for co in CALLOUTS:
    x0, y0, x1, y1 = co["box"]
    body = bubble_path(x0 + INSET, y0 + INSET, x1 - INSET, y1 - INSET)
    tail = tail_path(co["tail"])
    sh_body = bubble_path(x0 + INSET + 3, y0 + INSET + 6, x1 - INSET + 3, y1 - INSET + 6)
    sh_tail = tail_path([(a + 3, b + 6) for a, b in co["tail"]])
    for pth in (sh_body, sh_tail):
        shapes.append(dict(type="path", path=pth, xref="x7", yref="y7", layer="above",
                           fillcolor="rgba(0,0,0,0.16)", line=dict(color="rgba(0,0,0,0.16)", width=18)))
    for pth in (body, tail):
        shapes.append(dict(type="path", path=pth, xref="x7", yref="y7", layer="above",
                           fillcolor="white", line=dict(color="#1c1c1c", width=16)))
    for pth in (body, tail):
        shapes.append(dict(type="path", path=pth, xref="x7", yref="y7", layer="above",
                           fillcolor="white", line=dict(color="rgba(0,0,0,0)", width=0)))

# page edges
shapes += [
    dict(type="rect", xref="paper", yref="paper", x0=0, x1=21 / W, y0=0, y1=1,
         fillcolor="#f0f0f0", line=dict(width=0), layer="below"),
    dict(type="line", xref="paper", yref="paper", x0=21.5 / W, x1=21.5 / W, y0=0, y1=1,
         line=dict(color="#dadada", width=2), layer="below"),
    dict(type="rect", xref="paper", yref="paper", x0=0, x1=1, y0=1 - 4 / H, y1=1,
         fillcolor="#f0f0f0", line=dict(width=0), layer="below"),
    dict(type="rect", xref="paper", yref="paper", x0=0, x1=1, y0=0, y1=2 / H,
         fillcolor="#b5b5b5", line=dict(width=0), layer="below"),
]

# ---------------------------------------------------------------- text labels
annotations = []


def label(x, y, text, size, angle=0, family=SERIF, color="black", bold=False):
    if bold:
        text = "<b>%s</b>" % text
    annotations.append(dict(x=x, y=y, xref="x7", yref="y7", text=text, showarrow=False,
                            textangle=angle, xanchor="center", yanchor="middle",
                            font=dict(family=family, size=size, color=color)))


label(623, 87, "Pest Control", 62)
label(1395.5, 87, "Lunar Lander", 62)
label(2168, 87, "Robot Pushing", 62)
label(2509, 277, "Uniform-cost", 60, angle=90)
label(2506, 678, "Varying-cost", 60, angle=90)
label(119, 474, "Best Observed Value", 60, angle=-90)
for co in CALLOUTS:
    label(co["text"][0], co["text"][1], "Gittins", 80, family=BUBBLE_FONT,
          color=GITTINS_PURPLE, bold=True)

fig.update_layout(
    width=W, height=H, margin=dict(l=0, r=0, t=0, b=0, pad=0), autosize=False,
    paper_bgcolor="white", plot_bgcolor="rgba(0,0,0,0)",
    showlegend=False, font=dict(family=SERIF, color="black"),
    shapes=shapes, annotations=annotations, **axes_layout,
)

fig.write_html("out.html")
